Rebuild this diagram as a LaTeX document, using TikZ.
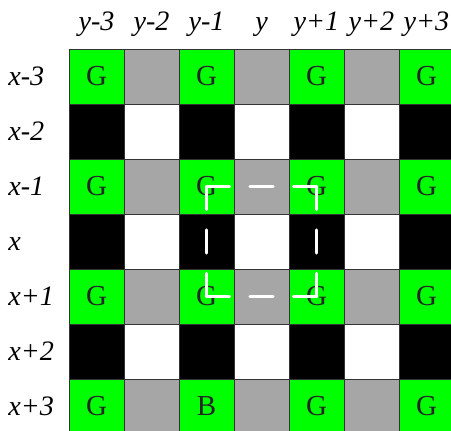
\documentclass[tikz,border=0pt]{standalone}
\usepackage{fontspec}
\setmainfont{Liberation Serif}
\usepackage{xcolor}

\definecolor{cellgreen}{RGB}{0,255,0}
\definecolor{cellgrey}{RGB}{166,166,166}

\tikzset{
  cell/.style={draw=black!80, line width=0.5pt, minimum size=1.1cm,
    inner sep=0pt, outer sep=0pt, text=black!85,
    font=\fontsize{16.5}{16.5}\selectfont},
  greencell/.style={cell, fill=cellgreen},
  greycell/.style={cell, fill=cellgrey},
  blackcell/.style={cell, fill=black},
  whitecell/.style={cell, fill=white},
  lab/.style={font=\fontsize{16}{16}\selectfont\itshape, inner sep=0pt},
  frame/.style={draw=white, line width=1.9pt, line cap=round,
    dash pattern=on 0.46cm off 0.41cm}
}

\begin{document}
\begin{tikzpicture}[x=1.1cm,y=1.1cm]
\useasboundingbox (-1.7545,1.3909) rectangle (6.4455,-6.4455);

% column labels
\node[lab,anchor=base] (ym3) at (0,0.83) {y-3};
\node[lab,anchor=base] (ym2) at (1,0.83) {y-2};
\node[lab,anchor=base] (ym1) at (2,0.83) {y-1};
\node[lab,anchor=base] (y0) at (3,0.83) {y};
\node[lab,anchor=base] (yp1) at (4,0.83) {y+1};
\node[lab,anchor=base] (yp2) at (5,0.83) {y+2};
\node[lab,anchor=base] (yp3) at (6,0.83) {y+3};

% row labels
\node[lab,anchor=base west] (xm3) at (-1.61,-0.155) {x-3};
\node[lab,anchor=base west] (xm2) at (-1.61,-1.155) {x-2};
\node[lab,anchor=base west] (xm1) at (-1.61,-2.155) {x-1};
\node[lab,anchor=base west] (x0) at (-1.61,-3.155) {x};
\node[lab,anchor=base west] (xp1) at (-1.61,-4.155) {x+1};
\node[lab,anchor=base west] (xp2) at (-1.61,-5.155) {x+2};
\node[lab,anchor=base west] (xp3) at (-1.61,-6.155) {x+3};

% row x-3
\node[greencell] (c00) at (0,0) {G};
\node[greycell] (c01) at (1,0) {};
\node[greencell] (c02) at (2,0) {G};
\node[greycell] (c03) at (3,0) {};
\node[greencell] (c04) at (4,0) {G};
\node[greycell] (c05) at (5,0) {};
\node[greencell] (c06) at (6,0) {G};

% row x-2
\node[blackcell] (c10) at (0,-1) {};
\node[whitecell] (c11) at (1,-1) {};
\node[blackcell] (c12) at (2,-1) {};
\node[whitecell] (c13) at (3,-1) {};
\node[blackcell] (c14) at (4,-1) {};
\node[whitecell] (c15) at (5,-1) {};
\node[blackcell] (c16) at (6,-1) {};

% row x-1
\node[greencell] (c20) at (0,-2) {G};
\node[greycell] (c21) at (1,-2) {};
\node[greencell] (c22) at (2,-2) {G};
\node[greycell] (c23) at (3,-2) {};
\node[greencell] (c24) at (4,-2) {G};
\node[greycell] (c25) at (5,-2) {};
\node[greencell] (c26) at (6,-2) {G};

% row x
\node[blackcell] (c30) at (0,-3) {};
\node[whitecell] (c31) at (1,-3) {};
\node[blackcell] (c32) at (2,-3) {};
\node[whitecell] (c33) at (3,-3) {};
\node[blackcell] (c34) at (4,-3) {};
\node[whitecell] (c35) at (5,-3) {};
\node[blackcell] (c36) at (6,-3) {};

% row x+1
\node[greencell] (c40) at (0,-4) {G};
\node[greycell] (c41) at (1,-4) {};
\node[greencell] (c42) at (2,-4) {G};
\node[greycell] (c43) at (3,-4) {};
\node[greencell] (c44) at (4,-4) {G};
\node[greycell] (c45) at (5,-4) {};
\node[greencell] (c46) at (6,-4) {G};

% row x+2
\node[blackcell] (c50) at (0,-5) {};
\node[whitecell] (c51) at (1,-5) {};
\node[blackcell] (c52) at (2,-5) {};
\node[whitecell] (c53) at (3,-5) {};
\node[blackcell] (c54) at (4,-5) {};
\node[whitecell] (c55) at (5,-5) {};
\node[blackcell] (c56) at (6,-5) {};

% row x+3
\node[greencell] (c60) at (0,-6) {G};
\node[greycell] (c61) at (1,-6) {};
\node[greencell] (c62) at (2,-6) {B};
\node[greycell] (c63) at (3,-6) {};
\node[greencell] (c64) at (4,-6) {G};
\node[greycell] (c65) at (5,-6) {};
\node[greencell] (c66) at (6,-6) {G};

% dashed square between the four G cells
\draw[frame] (c22.center) -- (c24.center);
\draw[frame] (c24.center) -- (c44.center);
\draw[frame] (c42.center) -- (c44.center);
\draw[frame] (c22.center) -- (c42.center);
\end{tikzpicture}
\end{document}
